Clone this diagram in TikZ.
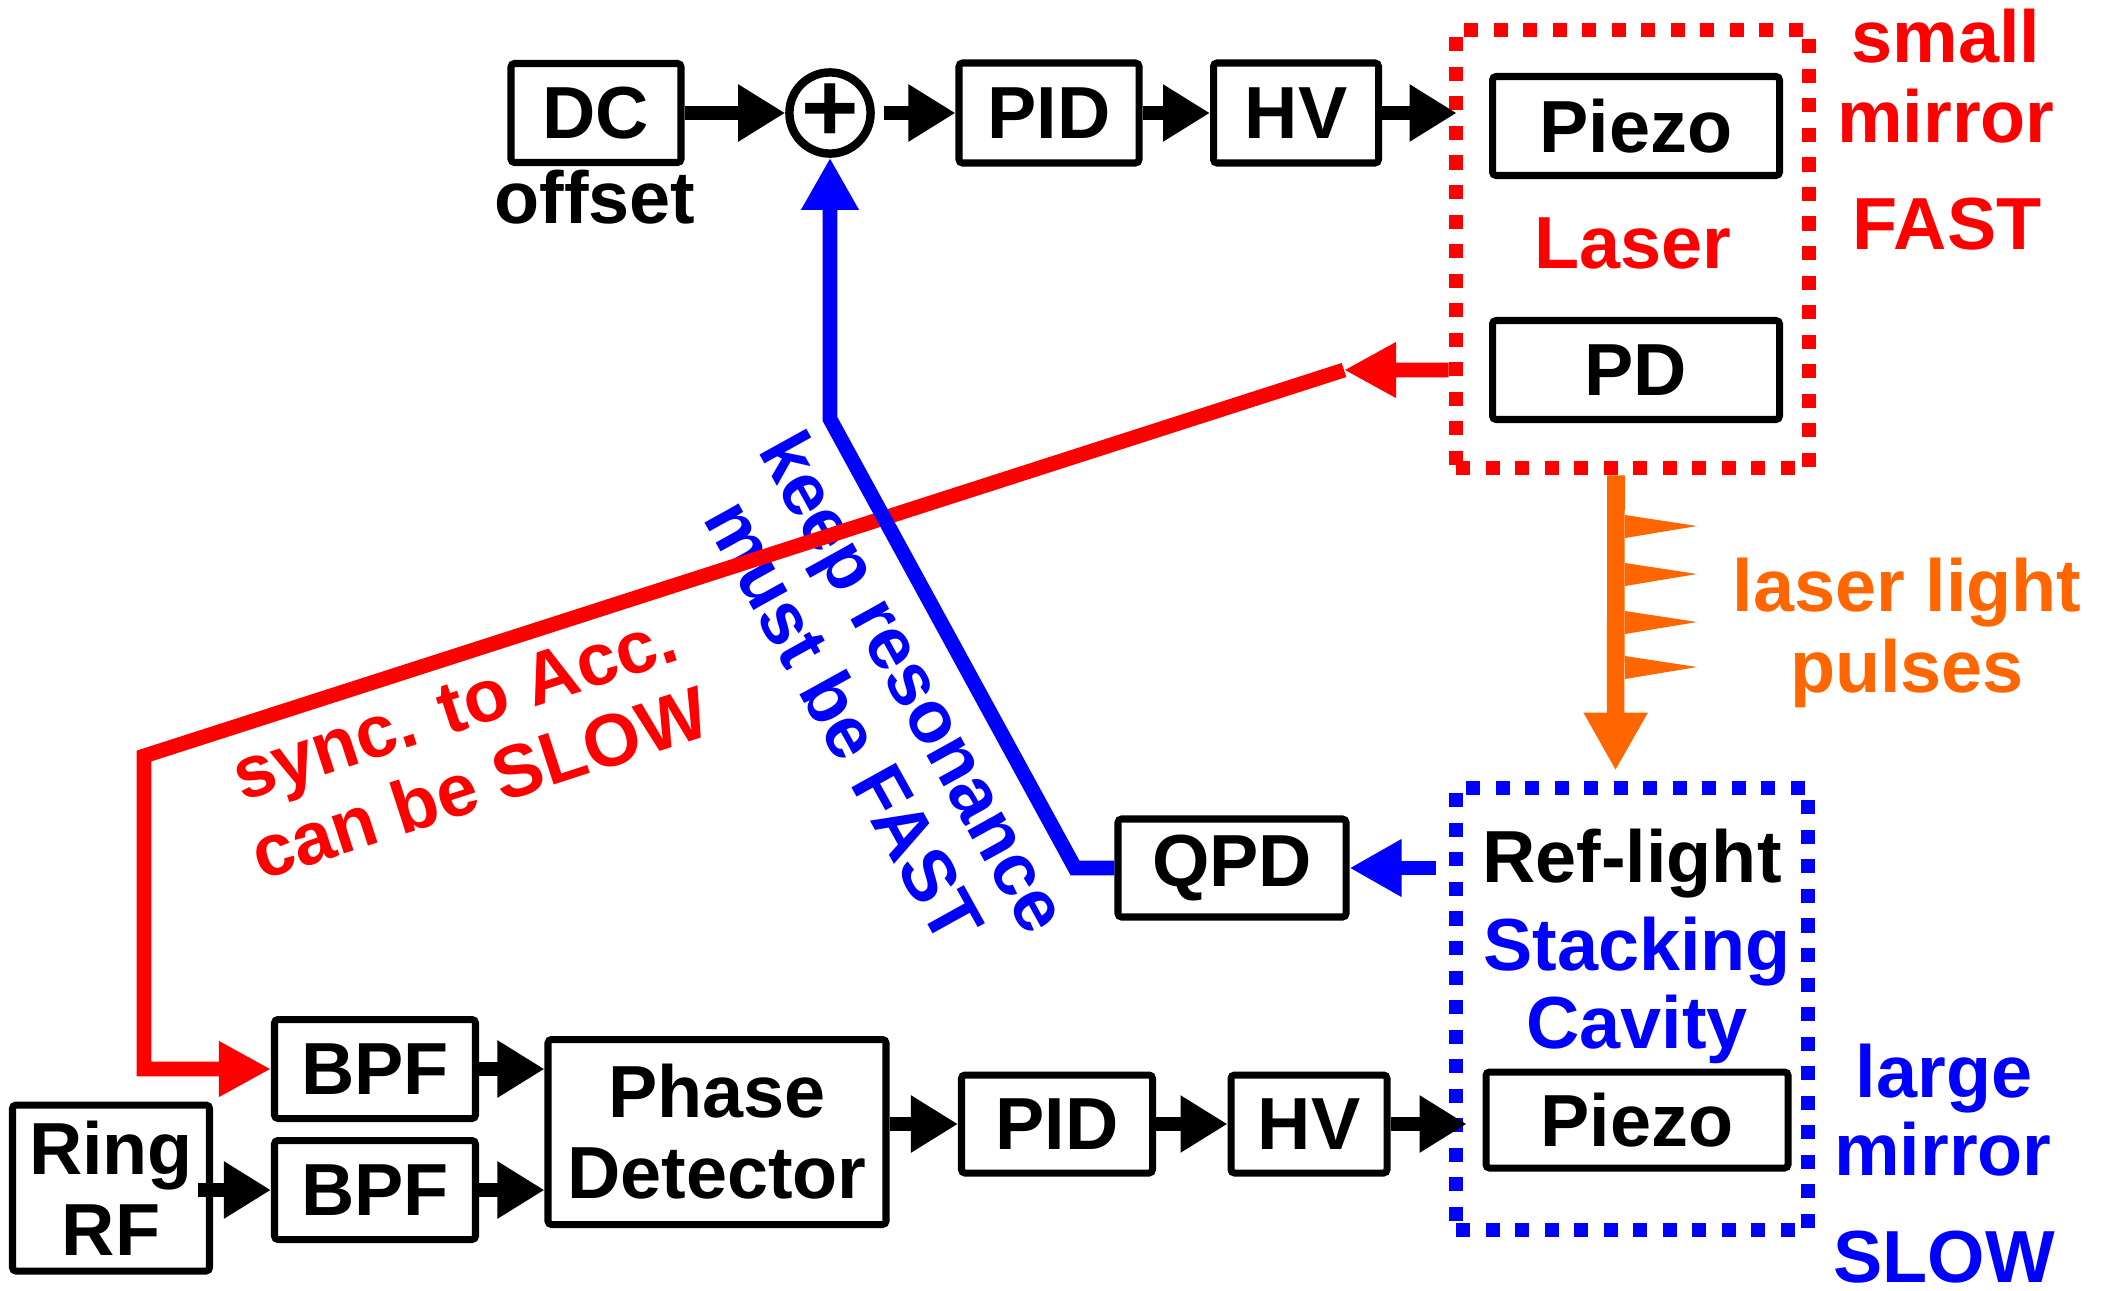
\documentclass[tikz,border=0pt]{standalone}
\usepackage{fontspec}
\setmainfont{Liberation Sans}
\usetikzlibrary{positioning, arrows.meta}
\definecolor{fastred}{RGB}{255,0,0}
\definecolor{slowblue}{RGB}{0,0,255}
\definecolor{pulseorange}{RGB}{255,102,0}
\tikzset{
  block/.style={draw, line width=2pt, rounded corners=1pt, inner sep=0pt, align=center},
  sumnode/.style={circle, draw, line width=2.4pt, minimum size=0.81cm, inner sep=0pt, font=\fontsize{28}{28}\selectfont\bfseries},
  dotbox/.style={line width=4.2pt, dash pattern=on 4pt off 4.4pt, inner sep=0pt},
  lbl/.style={anchor=base, inner sep=0pt},
  arr/.style={line width=4.2pt, -{Triangle[length=0.47cm,width=0.54cm]}},
  redarr/.style={arr, fastred, -{Triangle[length=0.52cm,width=0.52cm]}},
  bluearr/.style={arr, slowblue, -{Triangle[length=0.52cm,width=0.54cm]}},
  pulsearr/.style={line width=5pt, pulseorange, -{Triangle[length=0.58cm,width=0.6cm]}}
}
\begin{document}
\begin{tikzpicture}[font=\fontsize{21}{23}\selectfont\bfseries]
\useasboundingbox (0,0) rectangle (21.07,-12.90);
\node[block, minimum width=1.70cm, minimum height=0.99cm] (dc) at (5.96,-1.13) {DC};
\node[lbl] (offset) at (5.95,-2.23) {offset};
\node[sumnode, right of=dc, xshift=1.34cm] (sum) {+};
\node[block, minimum width=1.80cm, minimum height=1.00cm, right of=sum, xshift=1.19cm] (pid1) {PID};
\node[block, minimum width=1.65cm, minimum height=1.00cm, right of=pid1, xshift=1.47cm] (hv1) {HV};

\node[dotbox, draw=fastred, minimum width=3.53cm, minimum height=4.38cm] (laser) at (16.325,-2.49) {};
\node[block, minimum width=2.87cm, minimum height=0.99cm] (piezo1) at (16.36,-1.26) {Piezo};
\node[lbl, fastred] (lasertxt) at (16.33,-2.68) {Laser};
\node[block, minimum width=2.87cm, minimum height=0.99cm, below of=piezo1, yshift=-1.44cm] (pd) {PD};
\node[lbl, fastred] (small) at (19.46,-0.62) {small};
\node[lbl, fastred] (mirror1) at (19.46,-1.42) {mirror};
\node[lbl, fastred] (fast) at (19.47,-2.49) {FAST};

\node[lbl, pulseorange] (lightA) at (19.07,-6.11) {laser light};
\node[lbl, pulseorange] (lightB) at (19.07,-6.92) {pulses};

\node[dotbox, draw=slowblue, minimum width=3.52cm, minimum height=4.42cm] (cavity) at (16.32,-10.09) {};
\node[lbl] (reflight) at (16.32,-8.82) {Ref-light};
\node[lbl, slowblue] (stacking) at (16.37,-9.70) {Stacking};
\node[lbl, slowblue] (cavtxt) at (16.37,-10.48) {Cavity};
\node[block, minimum width=3.02cm, minimum height=0.96cm] (piezo2) at (16.37,-11.20) {Piezo};
\node[lbl, slowblue] (large) at (19.44,-10.97) {large};
\node[lbl, slowblue] (mirror2) at (19.43,-11.75) {mirror};
\node[lbl, slowblue] (slow) at (19.44,-12.82) {SLOW};

\node[block, minimum width=2.28cm, minimum height=0.98cm] (qpd) at (12.32,-8.68) {QPD};

\node[block, minimum width=1.97cm, minimum height=1.66cm] (ringrf) at (1.11,-11.88) {Ring\\RF};
\node[block, minimum width=2.01cm, minimum height=0.99cm] (bpf1) at (3.75,-10.69) {BPF};
\node[block, minimum width=2.01cm, minimum height=0.99cm, below of=bpf1, yshift=-0.21cm] (bpf2) {BPF};
\node[block, minimum width=3.38cm, minimum height=1.85cm] (phdet) at (7.17,-11.32) {Phase\\Detector};
\node[block, minimum width=1.91cm, minimum height=0.98cm] (pid2) at (10.57,-11.24) {PID};
\node[block, minimum width=1.56cm, minimum height=0.98cm, right of=pid2, xshift=1.52cm] (hv2) {HV};

\node[fastred, rotate=18, align=center] (synctxt) at (4.67,-7.45) {sync. to Acc.\\can be SLOW};
\node[slowblue, rotate=-61, align=center] (fasttxt) at (8.80,-7.01) {keep resonance\\must be FAST};

\draw[arr] (dc.east) -- (sum.west);
\draw[arr, shorten <=0.09cm] (sum.east) -- (pid1.west);
\draw[arr] (pid1.east) -- (hv1.west);
\draw[arr] (hv1.east) -- ([xshift=0.08cm]laser.west |- hv1.east);
\draw[arr] ([xshift=-0.15cm]ringrf.east |- bpf2.west) -- (bpf2.west);
\draw[arr] (bpf1.east) -- (bpf1.east -| phdet.west);
\draw[arr] (bpf2.east) -- (bpf2.east -| phdet.west);
\draw[arr] (phdet.east |- pid2.west) -- (pid2.west);
\draw[arr] (pid2.east) -- (hv2.west);
\draw[arr] (hv2.east) -- ([xshift=0.18cm]cavity.west |- hv2.east);

\coordinate (syncA) at (13.44,-3.70);
\coordinate (syncB) at (1.44,-7.56);
\draw[redarr] (laser.west |- pd.west) -- (syncA);
\draw[redarr] (syncA) -- (syncB) |- (bpf1.west);

\coordinate (fastA) at (10.75,-8.68);
\coordinate (fastB) at (8.30,-4.19);
\draw[bluearr] (qpd.west) -- (fastA) -- (fastB) -- (sum.south);
\draw[bluearr, shorten <=0.13cm] (cavity.west |- qpd.east) -- (qpd.east);

\draw[pulsearr, shorten >=0.1cm] ([xshift=-0.165cm]laser.south) -- ([xshift=-0.165cm]cavity.north);
\foreach \y in {-5.26,-5.74,-6.22,-6.67}
  \fill[pulseorange] (16.25,\y+0.11) -- (16.97,\y) -- (16.25,\y-0.12) -- cycle;
\end{tikzpicture}
\end{document}
